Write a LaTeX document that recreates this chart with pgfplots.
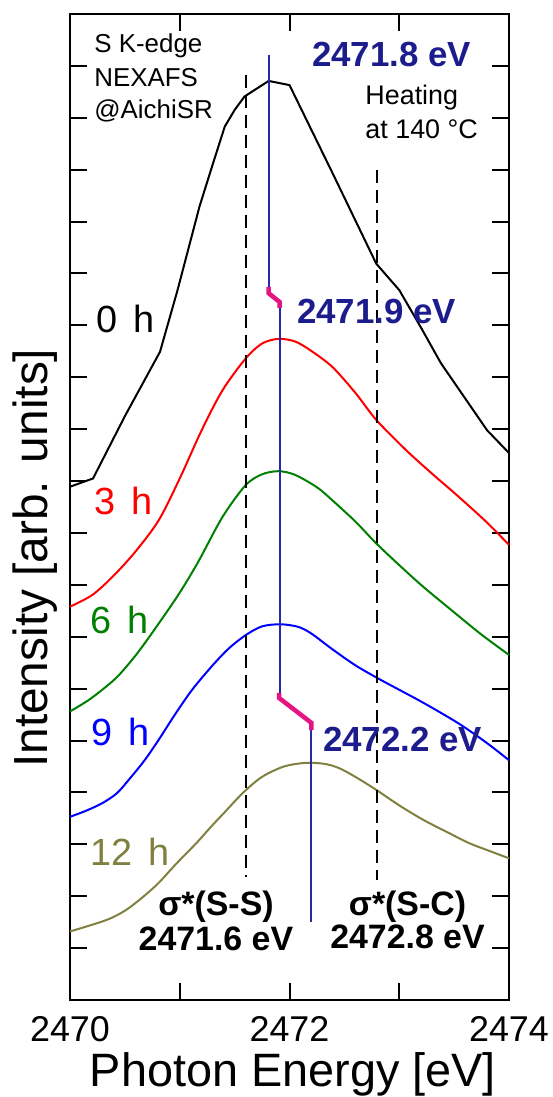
\documentclass[border=0pt]{standalone}
\usepackage{fontspec}
\setmainfont{Liberation Sans}
\usepackage{pgfplots}
\pgfplotsset{compat=1.18}
\definecolor{olv}{RGB}{128,128,64}
\definecolor{grn}{RGB}{0,128,0}
\definecolor{navy}{RGB}{28,28,140}
\definecolor{navyline}{RGB}{40,40,170}
\definecolor{mag}{RGB}{230,20,130}
\newcommand\fs[1]{\fontsize{#1}{#1}\selectfont}

\begin{document}
\begin{tikzpicture}
\path[use as bounding box] (-70bp,-97bp) rectangle (483bp,1000bp);
\begin{axis}[
  scale only axis, width=439bp, height=986bp,
  xmin=2470, xmax=2474, ymin=0, ymax=19,
  clip=false,
  axis line style={line width=2.5bp},
  xtick={2470,2471,...,2474}, xticklabels={2470,,2472,,2474},
  minor x tick num=4,
  ytick={1,2,...,18}, yticklabels={},
  major tick length=17bp, minor tick length=9bp,
  every tick/.style={black, line width=2bp},
  /pgf/number format/assume math mode=true,
  tick label style={font=\fs{36}},
  xticklabel style={yshift=-13bp},
]
% spectra, offset per heating time
\addplot[black, line width=2bp] coordinates {
  (2470.00,9.89) (2470.21,10.05) (2470.50,11.25) (2470.82,12.49) (2470.98,13.68)
  (2471.18,15.29) (2471.30,16.10) (2471.41,16.83) (2471.50,17.15) (2471.59,17.41)
  (2471.81,17.71) (2472.00,17.63) (2472.40,15.90) (2472.79,14.19) (2473.00,13.68)
  (2473.20,12.95) (2473.38,12.27) (2473.80,10.98) (2474.00,10.54)};
\addplot[red, line width=2bp, smooth] coordinates {
  (2470.00,7.58) (2470.20,7.80) (2470.39,8.16) (2470.60,8.65) (2470.81,9.25)
  (2471.00,10.05) (2471.20,10.98) (2471.39,11.75) (2471.60,12.36) (2471.75,12.65)
  (2471.90,12.74) (2472.05,12.69) (2472.19,12.52) (2472.39,12.20)
  (2472.60,11.70) (2472.79,11.18) (2473.06,10.60) (2473.30,10.14) (2473.54,9.70)
  (2473.80,9.20) (2474.00,8.77)};
\addplot[grn, line width=2bp, smooth] coordinates {
  (2470.00,5.56) (2470.17,5.78) (2470.33,6.04) (2470.45,6.27) (2470.62,6.70)
  (2470.81,7.26) (2471.00,7.85) (2471.17,8.45) (2471.39,9.31) (2471.60,9.92)
  (2471.75,10.13) (2471.90,10.19) (2472.05,10.12) (2472.25,9.88)
  (2472.39,9.63) (2472.60,9.22) (2472.79,8.80) (2473.00,8.38) (2473.22,7.96)
  (2473.50,7.47) (2473.75,7.04) (2474.00,6.65)};
\addplot[blue, line width=2bp, smooth] coordinates {
  (2470.00,3.53) (2470.15,3.65) (2470.30,3.80) (2470.43,3.99) (2470.55,4.28)
  (2470.68,4.62) (2470.81,5.02) (2470.95,5.48) (2471.11,5.97) (2471.30,6.45)
  (2471.45,6.78) (2471.60,7.03) (2471.75,7.20) (2471.92,7.24) (2472.08,7.19)
  (2472.20,7.06) (2472.39,6.76) (2472.60,6.45) (2472.83,6.17) (2473.20,5.75)
  (2473.54,5.33) (2473.80,4.95) (2474.00,4.62)};
\addplot[olv, line width=2bp, smooth] coordinates {
  (2470.00,1.32) (2470.33,1.54) (2470.50,1.72) (2470.65,1.96) (2470.80,2.24)
  (2470.97,2.63) (2471.15,3.02) (2471.29,3.35) (2471.41,3.62) (2471.58,4.00)
  (2471.75,4.30) (2471.95,4.50) (2472.15,4.57) (2472.32,4.55) (2472.45,4.47)
  (2472.60,4.30) (2472.79,4.05) (2473.00,3.75) (2473.22,3.47) (2473.45,3.22)
  (2473.64,3.02) (2473.85,2.85) (2474.00,2.73)};
% reference energies
\addplot[black, line width=2bp, dash pattern=on 13bp off 7bp] coordinates {(2471.6,17.82) (2471.6,2.37)};
\addplot[black, line width=2bp, dash pattern=on 13bp off 7bp] coordinates {(2472.8,15.99) (2472.8,2.31)};
% peak position track
\addplot[navyline, line width=2bp] coordinates {(2471.81,18.21) (2471.81,13.74)};
\addplot[navyline, line width=2bp] coordinates {(2471.91,13.33) (2471.91,5.92)};
\addplot[navyline, line width=2bp] coordinates {(2472.20,5.20) (2472.20,1.51)};
\addplot[mag, line width=4.5bp] coordinates {(2471.81,13.74) (2471.81,13.62) (2471.91,13.45) (2471.91,13.33)};
\addplot[mag, line width=4.5bp] coordinates {(2471.905,5.92) (2471.905,5.82) (2472.2,5.34) (2472.2,5.20)};

\node[anchor=base west, inner sep=0, font=\fs{26}] at (axis cs:2470.22,18.25) {S K-edge};
\node[anchor=base west, inner sep=0, font=\fs{26}] at (axis cs:2470.22,17.61) {NEXAFS};
\node[anchor=base west, inner sep=0, font=\fs{26}] at (axis cs:2470.22,16.98) {@AichiSR};
\node[anchor=base west, inner sep=0, font=\fs{27}] at (axis cs:2472.69,17.25) {Heating};
\node[anchor=base west, inner sep=0, font=\fs{27}] at (axis cs:2472.69,16.61) {at 140 °C};

\node[anchor=base west, inner sep=0, font=\fs{35}\bfseries, text=navy] at (axis cs:2472.205,17.98) {2471.8 eV};
\node[anchor=base west, inner sep=0, font=\fs{35}\bfseries, text=navy] at (axis cs:2472.068,13.04) {2471.9 eV};
\node[anchor=base west, inner sep=0, font=\fs{35}\bfseries, text=navy] at (axis cs:2472.305,4.78) {2472.2 eV};

\node[anchor=base west, inner sep=0, font=\fs{38}, text=black] at (axis cs:2470.243,12.87) {0\hspace{0.42em}h};
\node[anchor=base west, inner sep=0, font=\fs{38}, text=red] at (axis cs:2470.219,9.35) {3\hspace{0.42em}h};
\node[anchor=base west, inner sep=0, font=\fs{38}, text=grn] at (axis cs:2470.186,7.07) {6\hspace{0.42em}h};
\node[anchor=base west, inner sep=0, font=\fs{38}, text=blue] at (axis cs:2470.198,4.91) {9\hspace{0.42em}h};
\node[anchor=base west, inner sep=0, font=\fs{38}, text=olv] at (axis cs:2470.182,2.60) {12\hspace{0.42em}h};

\node[anchor=base, inner sep=0, font=\fs{34}\bfseries] at (axis cs:2471.33,1.63) {σ*(S-S)};
\node[anchor=base, inner sep=0, font=\fs{34}\bfseries] at (axis cs:2471.33,0.963) {2471.6 eV};
\node[anchor=base, inner sep=0, font=\fs{34}\bfseries] at (axis cs:2473.075,1.63) {σ*(S-C)};
\node[anchor=base, inner sep=0, font=\fs{34}\bfseries] at (axis cs:2473.075,1.0) {2472.8 eV};

\node[anchor=base, inner sep=0, font=\fs{47}, yshift=-86bp] at (rel axis cs:0.508,0) {Photon Energy [eV]};
\node[anchor=base, inner sep=0, font=\fs{48}, xshift=-22bp, rotate=90] at (rel axis cs:0,0.448) {Intensity [arb. units]};
\end{axis}
\end{tikzpicture}
\end{document}
